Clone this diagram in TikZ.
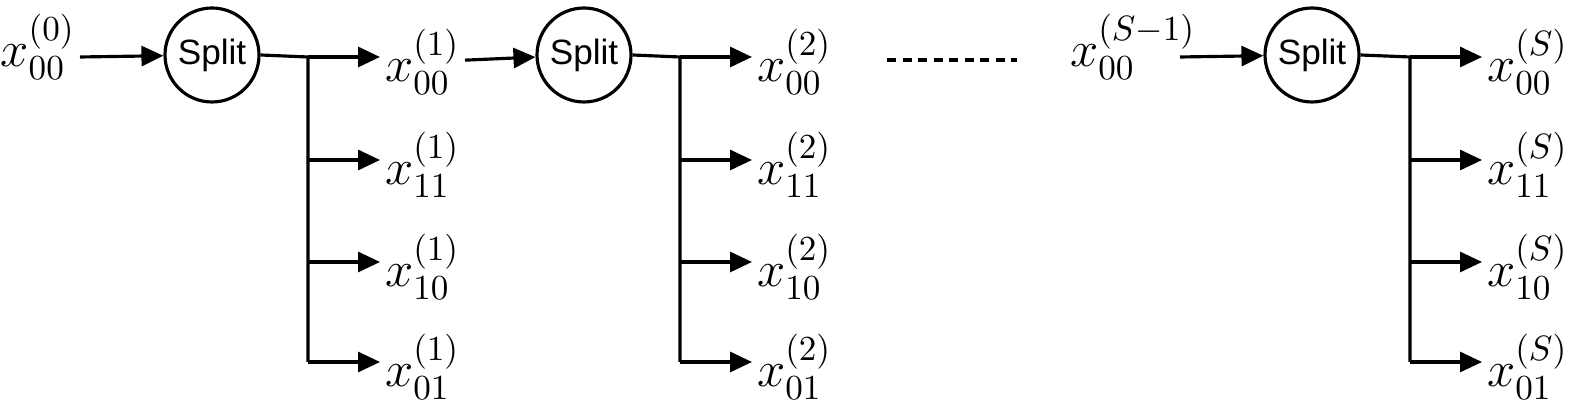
\documentclass[tikz,border=0pt]{standalone}
\usepackage{amsmath}
\usepackage{fontspec}
\setsansfont{Liberation Sans}
\usetikzlibrary{arrows.meta,positioning}
\begin{document}
\begin{tikzpicture}[line width=0.9pt,
    arr/.style={-{Triangle[length=0.22cm,width=0.2cm]}},
    split/.style={draw,circle,minimum size=0.94cm,inner sep=0pt,font=\sffamily\fontsize{10}{12}\selectfont},
    lab/.style={font=\fontsize{14.5}{16}\selectfont,inner sep=1pt}]
  \useasboundingbox (0,0) rectangle (15.88,-4.14);
  \node[lab] (in0) at (0.38,-0.47) {$x_{00}^{(0)}$};
  \node[split] (s1) at (2.12,-0.55) {Split};
  \node[split] (s2) at (5.84,-0.55) {Split};
  \node[lab] (inS) at (11.33,-0.47) {$x_{00}^{(S-1)}$};
  \node[split] (s3) at (13.12,-0.55) {Split};
  \draw[arr] (0.8,-0.57) -- (s1);
  \draw[dash pattern=on 0.09cm off 0.065cm] (8.87,-0.6) -- (10.17,-0.6);
  \draw[arr] (11.8,-0.57) -- (s3);
  % three branch trees
  \foreach \s/\bx/\sup in {s1/3.08/1,s2/6.80/2,s3/14.10/S}{
    \coordinate (\s t) at (\bx,-0.57);
    \draw (\s.east) -- (\s t) -- (\bx,-3.62);
    \foreach \y/\idx [count=\i] in {0.57/00,1.6/11,2.62/10,3.62/01}{
      \node[lab,anchor=west] (\s o\i) at (\bx+0.72,-\y-0.05) {$x_{\idx}^{(\sup)}$};
      \draw[arr] (\bx,-\y) -- (\s o\i.west|-0,-\y);
    }
  }
  \draw[arr] (s1o1) -- (s2);
\end{tikzpicture}
\end{document}
